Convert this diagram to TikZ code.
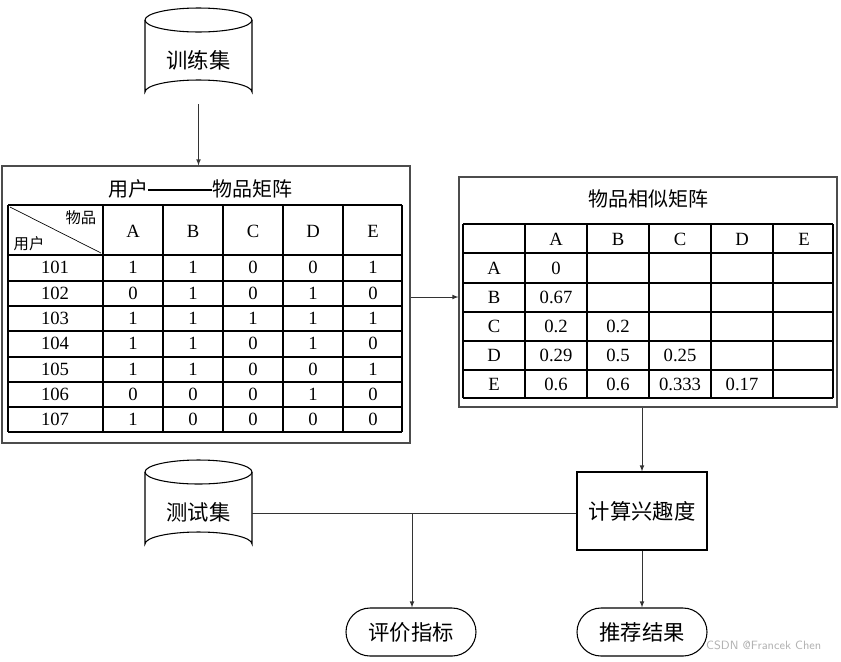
\documentclass[tikz,border=0pt]{standalone}
\usepackage{fontspec}
\setmainfont{Liberation Serif}
\newfontfamily\cjk{Noto Sans CJK SC}
\begin{document}
\begin{tikzpicture}[x=0.75pt,y=-0.75pt,
  lbl/.style={font=\cjk\fontsize{16}{18}\selectfont},
  ttl/.style={font=\cjk\fontsize{15}{16}\selectfont},
  num/.style={font=\fontsize{14}{15}\selectfont},
  thk/.style={line width=2pt},
  conn/.style={draw=black!80,line width=0.6pt},
  arr/.style={conn,-latex}]
\useasboundingbox (0,0) rectangle (841,661);
% cylinders
\foreach \n/\y/\t in {train/8/训练集, test/460/测试集}{
  \draw[line width=0.8pt,fill=white] (145,\y+12) arc[start angle=180,end angle=360,x radius=53.5,y radius=12] -- (252,\y+84) arc[start angle=0,end angle=-180,x radius=53.5,y radius=12] -- cycle;
  \draw[line width=0.8pt] (145,\y+12) arc[start angle=180,end angle=0,x radius=53.5,y radius=12];
  \node[lbl] (\n) at (198.5,\y+52) {\t};
  \coordinate (\n B) at (198.5,\y+96);
  \coordinate (\n R) at (252,\y+53);
}
% left box
\node[draw=black!70,line width=0.8pt,minimum width=408*0.75pt,minimum height=277*0.75pt,inner sep=0] (lbox) at (206,304.5) {};
\node[ttl] at (200,189) {用户\rule[0.3em]{3.2em}{0.07em}物品矩阵};
\foreach \x in {8,103,163,223,283,343,402} \draw[thk] (\x,205) -- (\x,432);
\foreach \y in {205,255,281,306,331,357,382,407,432} \draw[thk] (8,\y) -- (402,\y);
\draw[line width=0.5pt] (10,207) -- (101,253);
\node[font=\cjk\fontsize{11.5}{12}\selectfont,anchor=north east] at (101,206) {物品};
\node[font=\cjk\fontsize{11.5}{12}\selectfont,anchor=south west] at (9,256) {用户};
\foreach \c [count=\i] in {A,B,C,D,E} \node[num] at (133+60*\i-60,231) {\c};
\foreach \r/\vals [count=\j] in {101/{1,1,0,0,1},102/{0,1,0,1,0},103/{1,1,1,1,1},104/{1,1,0,1,0},105/{1,1,0,0,1},106/{0,0,0,1,0},107/{1,0,0,0,0}}{
  \pgfmathsetmacro\yy{255+25.3*\j-12.6}
  \node[num] at (55,\yy) {\r};
  \foreach \v [count=\i] in \vals \node[num] at (133+60*\i-60,\yy) {\v};
}
% right box
\node[draw=black!70,line width=0.8pt,minimum width=378*0.75pt,minimum height=230*0.75pt,inner sep=0] (rbox) at (648,292) {};
\node[ttl] at (648,199) {物品相似矩阵};
\foreach \x in {463,525,587,649,711,773,833} \draw[thk] (\x,224) -- (\x,398);
\foreach \y in {224,253,283,312,341,370,398} \draw[thk] (463,\y) -- (833,\y);
\foreach \c [count=\i] in {A,B,C,D,E}{
  \node[num] at (556+62*\i-62,239) {\c};
  \node[num] at (494,239+29*\i) {\c};
}
\foreach \v/\i/\j in {0/1/1,0.67/1/2,0.2/1/3,0.2/2/3,0.29/1/4,0.5/2/4,0.25/3/4,0.6/1/5,0.6/2/5,0.333/3/5,0.17/4/5}
  \node[num] at (556+62*\i-62,239+29*\j) {\v};
% process boxes
\node[draw,line width=0.8pt,lbl,minimum width=130*0.75pt,minimum height=78*0.75pt] (calc) at (642,511) {计算兴趣度};
\node[draw,line width=0.8pt,lbl,rounded corners=18pt,minimum width=130*0.75pt,minimum height=48*0.75pt] (eval) at (411,632) {评价指标};
\node[draw,line width=0.8pt,lbl,rounded corners=18pt,minimum width=130*0.75pt,minimum height=48*0.75pt] (rec) at (642,632) {推荐结果};
% connectors
\draw[arr] (trainB) -- (lbox.north -| trainB);
\draw[arr] (lbox.east |- 0,297) -- (rbox.west |- 0,297);
\draw[arr] (rbox.south -| calc.north) -- (calc.north);
\coordinate (br) at (412,513);
\draw[conn] (testR) -- (calc.west |- testR);
\draw[arr] (br) -- (br |- eval.north);
\draw[arr] (calc.south) -- (rec.north);
\node[font=\fontsize{9}{10}\selectfont\sffamily,text=black!30,anchor=east] at (826,645) {CSDN @Francek Chen};
\end{tikzpicture}
\end{document}
